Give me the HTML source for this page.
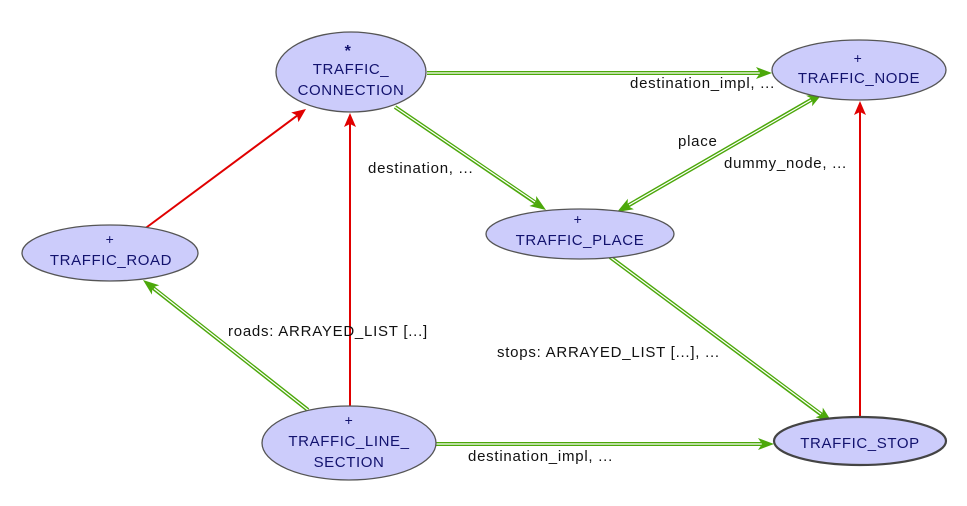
<!DOCTYPE html>
<html><head><meta charset="utf-8"><style>
html,body{margin:0;padding:0;background:#fff;}
svg{display:block;font-family:"Liberation Sans",Arial,sans-serif;}
</style></head><body>
<svg width="967" height="506" viewBox="0 0 967 506" xmlns="http://www.w3.org/2000/svg">
<g stroke="#4ca80a" stroke-width="4" fill="none">
<line x1="427" y1="73" x2="761" y2="73"/>
<line x1="395" y1="107" x2="536" y2="203"/>
<line x1="812.6" y1="99" x2="627.4" y2="206"/>
<line x1="610" y1="257" x2="822" y2="415"/>
<line x1="308" y1="410" x2="152.4" y2="287.4"/>
<line x1="436" y1="444" x2="763" y2="444"/>
</g>
<g stroke="#fff" stroke-width="1.2" fill="none">
<line x1="427" y1="73" x2="760" y2="73"/>
<line x1="395" y1="107" x2="535" y2="202"/>
<line x1="811" y1="100" x2="629" y2="205"/>
<line x1="610" y1="257" x2="821" y2="414"/>
<line x1="308" y1="410" x2="154" y2="288.5"/>
<line x1="436" y1="444" x2="762" y2="444"/>
</g>
<g fill="#4ca80a">
<polygon points="772,73 756,67 760,73 756,79"/>
<polygon points="546,210 529.4,206 536.1,203.2 536.2,196"/>
<polygon points="617,212 627.9,198.8 627.4,206 633.9,209.2"/>
<polygon points="823,93 806.1,95.8 812.6,99 812.1,106.2"/>
<polygon points="832,422 815.6,417.2 822.4,414.8 822.8,407.6"/>
<polygon points="143,280 159.3,285.2 152.4,287.4 151.9,294.6"/>
<polygon points="774,444 758,438 762,444 758,450"/>
</g>
<g stroke="#e00000" stroke-width="2" fill="none">
<line x1="143" y1="230" x2="297.2" y2="115.6"/>
<line x1="350" y1="406" x2="350" y2="124"/>
<line x1="860" y1="417" x2="860" y2="112"/>
</g>
<g fill="#e00000">
<polygon points="306,109 298.4,122.1 297.2,115.6 291.2,112.5"/>
<polygon points="350,113 344,127 350,124 356,127"/>
<polygon points="860,101 854,115 860,112 866,115"/>
</g>
<g fill="#ccccfb" stroke="#555" stroke-width="1.3">
<ellipse cx="351" cy="72" rx="75" ry="40"/>
<ellipse cx="859" cy="70" rx="87" ry="30"/>
<ellipse cx="580" cy="234" rx="94" ry="25"/>
<ellipse cx="110" cy="253" rx="88" ry="28"/>
<ellipse cx="349" cy="443" rx="87" ry="37"/>
<ellipse cx="860" cy="441" rx="86" ry="24" stroke-width="2.2" stroke="#444"/>
</g>
<g fill="#12126e" font-size="15" text-anchor="middle" letter-spacing="0.6">
<text x="348" y="56" font-size="16" font-weight="bold">*</text>
<text x="351" y="74">TRAFFIC_</text>
<text x="351" y="95">CONNECTION</text>
<text x="858" y="63" font-size="14">+</text>
<text x="859" y="83">TRAFFIC_NODE</text>
<text x="578" y="224" font-size="14">+</text>
<text x="580" y="245">TRAFFIC_PLACE</text>
<text x="110" y="244" font-size="14">+</text>
<text x="111" y="265">TRAFFIC_ROAD</text>
<text x="349" y="425" font-size="14">+</text>
<text x="349" y="446">TRAFFIC_LINE_</text>
<text x="349" y="467">SECTION</text>
<text x="860" y="448">TRAFFIC_STOP</text>
</g>
<g fill="#111" font-size="15" letter-spacing="0.75">
<text x="630" y="88">destination_impl, ...</text>
<text x="368" y="173">destination, ...</text>
<text x="678" y="146">place</text>
<text x="724" y="168">dummy_node, ...</text>
<text x="497" y="357">stops: ARRAYED_LIST [...], ...</text>
<text x="228" y="336">roads: ARRAYED_LIST [...]</text>
<text x="468" y="461">destination_impl, ...</text>
</g>
</svg>
</body></html>
